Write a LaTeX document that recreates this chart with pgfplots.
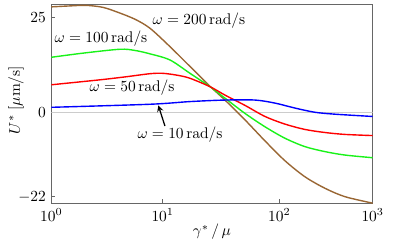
\documentclass[border=0pt]{standalone}
\usepackage{pgfplots}
\pgfplotsset{compat=1.18}
\definecolor{mbrown}{rgb}{0.6,0.4,0.2}
\definecolor{mgreen}{rgb}{0.1,0.95,0.1}
\definecolor{framegray}{rgb}{0.4,0.4,0.4}
\begin{document}
\begin{tikzpicture}
\begin{axis}[
  scale only axis,
  width=207.4bp, height=127.9bp,
  xmode=log, xmin=1, xmax=1000,
  ymin=-23.7, ymax=28.2,
  xtick={1,10.96,134.4,1000},
  xticklabels={$10^0$,$10^1$,$10^2$,$10^3$},
  xminorticks=false,
  ytick={-22,0,25},
  tick pos=left, tick align=inside,
  major tick length=2.5bp,
  axis line style={framegray, line width=0.7bp},
  every tick/.style={framegray, line width=0.6bp},
  xlabel={$\gamma^*\,/\,\mu$},
  ylabel={$U^*\;[\mu\mathrm{m/s}]$},
  ylabel style={at={(axis description cs:-0.11,0.52)}, anchor=center},
  xlabel style={at={(axis description cs:0.5,-0.145)}, anchor=center},
  clip=true,
]
\addplot[gray!40, line width=0.5bp, forget plot] coordinates {(1,0) (1000,0)};
% omega = 200
\addplot[mbrown, line width=0.9bp, smooth] coordinates {
(1,27.7) (1.5,27.95) (2.1,28.1) (3,27.6) (4.07,26.4) (6,24.5) (8.34,22.1) (12.8,17.3) (19.7,12.1) (30.3,6.9) (41.8,3.3) (64.3,-1.9) (98.8,-7.4) (151.8,-12.6) (233.4,-16.8) (358.6,-19.8) (550.9,-22.0) (1000,-23.7)};
% omega = 100
\addplot[mgreen, line width=0.9bp, smooth] coordinates {
(1,14.5) (2,15.6) (4.37,16.6) (6,16.3) (8.34,15.4) (12.8,13.8) (19.7,10.3) (30.3,6.8) (41.8,3.8) (64.3,-0.2) (98.8,-3.7) (151.8,-6.7) (233.4,-8.9) (358.6,-10.2) (550.9,-11.1) (1000,-11.8)};
% omega = 50
\addplot[red, line width=0.9bp, smooth] coordinates {
(1,7.3) (2.85,8.6) (5,9.4) (8.34,10.2) (11,10.3) (15,9.8) (19.7,9.0) (30.3,6.8) (41.8,4.6) (64.3,1.9) (98.8,-1.0) (151.8,-3.0) (233.4,-4.4) (358.6,-5.2) (550.9,-5.7) (1000,-6.0)};
% omega = 10
\addplot[blue, line width=0.9bp, smooth] coordinates {
(1,1.4) (8.34,2.2) (19.7,2.9) (41.8,3.3) (79.7,3.3) (122.5,2.5) (188.2,1.2) (289.2,0.1) (444.4,-0.4) (1000,-1.0)};
\node at (axis cs:23.9,24.0) {$\omega=200\,\mathrm{rad/s}$};
\node at (axis cs:2.91,19.3) {$\omega=100\,\mathrm{rad/s}$};
\node at (axis cs:5.67,6.5) {$\omega=50\,\mathrm{rad/s}$};
\node at (axis cs:15.9,-5.8) {$\omega=10\,\mathrm{rad/s}$};
\draw[-stealth, line width=0.8bp] (axis cs:11.5,-3.5) -- (axis cs:9.98,1.9);
\coordinate (sw) at (rel axis cs:0,0);
\coordinate (ne) at (rel axis cs:1,1);
\end{axis}
\pgfresetboundingbox
\path ([shift={(-33.1bp,-28.2bp)}]sw) rectangle ([shift={(27.3bp,3.2bp)}]ne);
\end{tikzpicture}
\end{document}
